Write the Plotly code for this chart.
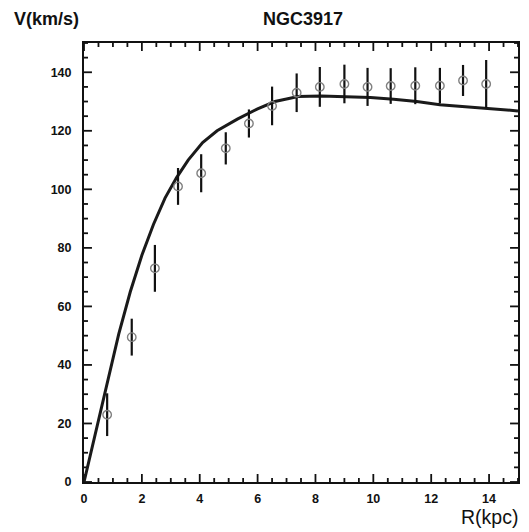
import plotly.graph_objects as go

# Observed rotation curve of NGC3917
radius_kpc = [0.8, 1.65, 2.45, 3.25, 4.05, 4.9, 5.7, 6.5, 7.35, 8.15,
              9.0, 9.8, 10.6, 11.45, 12.3, 13.1, 13.9]
velocity = [23, 49.5, 73, 101, 105.5, 114, 122.5, 128.5, 133, 135,
            136, 135, 135.3, 135.4, 135.4, 137.2, 136]
velocity_err = [7.3, 6.3, 8, 6.3, 6.5, 5.5, 4.8, 6.6, 6.6, 6.8,
                6.6, 6.5, 6.1, 6.3, 6.1, 5.3, 8.2]

# Model rotation curve
model_r = [0, 0.4, 0.8, 1.2, 1.6, 2.0, 2.4, 2.8, 3.2, 3.6, 4.1, 4.6, 5.3,
           6.0, 6.6, 7.4, 8.2, 9.0, 9.9, 10.7, 11.5, 12.3, 13.1, 14.0, 15.0]
model_v = [0, 16.6, 33.5, 50.5, 65, 77.5, 88, 97, 104, 110, 116, 120, 124,
           127.5, 130, 131.7, 131.9, 131.7, 131.4, 130.8, 130, 128.9, 128.3,
           127.7, 126.8]

x_ticks = [0, 2, 4, 6, 8, 10, 12, 14]
y_ticks = [0, 20, 40, 60, 80, 100, 120, 140]
x_range = [0, 15]
y_range = [0, 150]
x_minor_step = 0.5
y_minor_step = 5

W, H = 529, 532
MARGIN = dict(l=84, r=9, t=43, b=50)
plot_w = W - MARGIN["l"] - MARGIN["r"]
plot_h = H - MARGIN["t"] - MARGIN["b"]


def frange(start, stop, step):
    n = int(round((stop - start) / step))
    return [start + i * step for i in range(n + 1)]


x_minor = [v for v in frange(x_range[0], x_range[1], x_minor_step)
           if v not in x_ticks]
y_minor = [v for v in frange(y_range[0], y_range[1], y_minor_step)
           if v not in y_ticks]

# Inward tick marks on all four sides of the frame, as one line trace
MAJOR_PX, MINOR_PX = 8, 4
x_span = x_range[1] - x_range[0]
y_span = y_range[1] - y_range[0]
tick_x, tick_y = [], []
for vals, px in ((x_ticks, MAJOR_PX), (x_minor, MINOR_PX)):
    dy = px / plot_h * y_span
    for v in vals:
        tick_x += [v, v, None, v, v, None]
        tick_y += [y_range[0], y_range[0] + dy, None,
                   y_range[1], y_range[1] - dy, None]
for vals, px in ((y_ticks, MAJOR_PX), (y_minor, MINOR_PX)):
    dx = px / plot_w * x_span
    for v in vals:
        tick_x += [x_range[0], x_range[0] + dx, None,
                   x_range[1], x_range[1] - dx, None]
        tick_y += [v, v, None, v, v, None]

fig = go.Figure()

fig.add_trace(go.Scatter(
    x=tick_x, y=tick_y, mode="lines",
    line=dict(color="#111111", width=1.8),
    hoverinfo="skip", showlegend=False, connectgaps=False,
))

fig.add_trace(go.Scatter(
    x=model_r, y=model_v, mode="lines",
    line=dict(color="#1a1a1a", width=3),
    hoverinfo="skip", showlegend=False,
))

fig.add_trace(go.Scatter(
    x=radius_kpc, y=velocity, mode="markers",
    marker=dict(symbol="circle-open", size=8.5, color="#808080",
                line=dict(width=1.4, color="#808080")),
    error_y=dict(type="data", array=velocity_err, visible=True,
                 color="#111111", thickness=2.2, width=0),
    showlegend=False,
))

axis_font = dict(family="Liberation Sans, Arial", size=12.5, color="#111111",
                 weight="bold")

fig.update_layout(
    width=W, height=H,
    margin=MARGIN,
    plot_bgcolor="white", paper_bgcolor="white",
    xaxis=dict(range=x_range, tickvals=x_ticks, ticks="",
               showline=True, mirror=True, linecolor="#111111", linewidth=2,
               showgrid=False, zeroline=False, tickfont=axis_font,
               ticklabelstandoff=4),
    yaxis=dict(range=y_range, tickvals=y_ticks, ticks="",
               showline=True, mirror=True, linecolor="#111111", linewidth=2,
               showgrid=False, zeroline=False, tickfont=axis_font,
               ticklabelstandoff=8),
)

title_font = dict(family="Liberation Sans, Arial", size=18, color="#111111")

fig.update_layout(
    annotations=[
        dict(text="<b>NGC3917</b>", x=0.505, xref="paper", y=1.055,
             yref="paper", showarrow=False, font=title_font,
             xanchor="center", yanchor="middle"),
        dict(text="<b>V(km/s)</b>", x=-0.167, xref="paper", y=1.055,
             yref="paper", showarrow=False, font=title_font, xanchor="left",
             yanchor="middle"),
        dict(text="R(kpc)", x=1.005, xref="paper", y=-0.05, yref="paper",
             showarrow=False,
             font=dict(family="Liberation Sans, Arial", size=19.5,
                       color="#111111"),
             xanchor="right", yanchor="top"),
    ],
)

fig.write_html("out.html")
